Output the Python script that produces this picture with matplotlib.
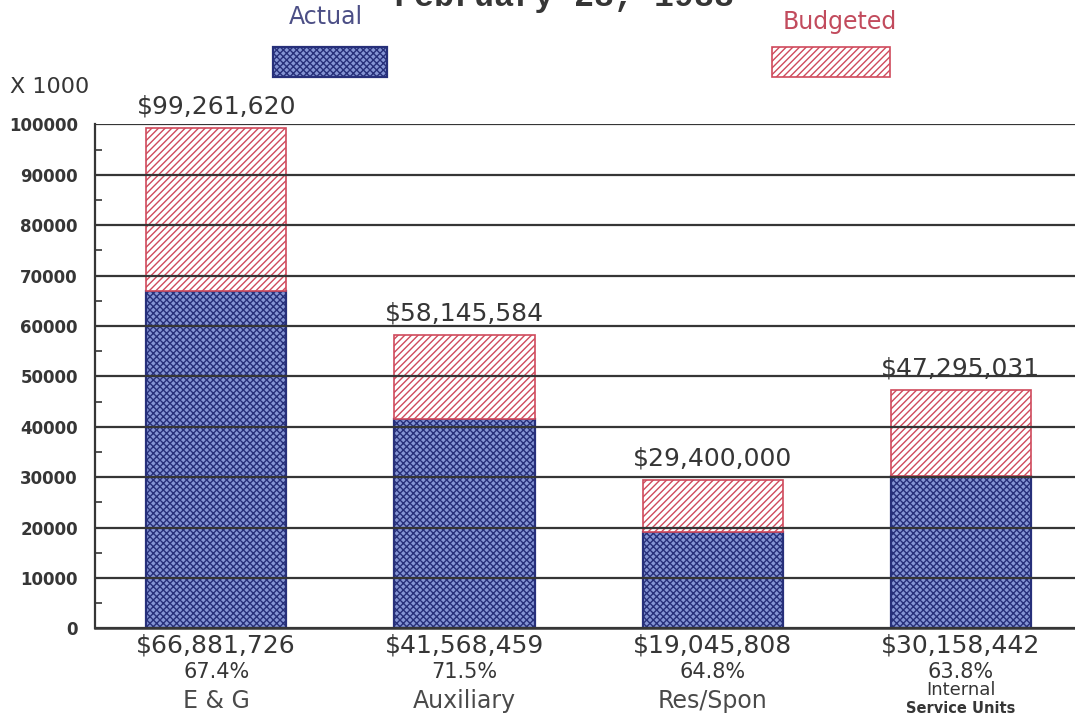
import matplotlib.pyplot as plt
from matplotlib.patches import Rectangle
from matplotlib.ticker import MultipleLocator
import numpy as np

# Spending by fund group, in dollars
categories = ["E & G", "Auxiliary", "Res/Spon", "Internal\nService Units"]
actual = [66881726, 41568459, 19045808, 30158442]
budgeted = [99261620, 58145584, 29400000, 47295031]
yticks = [0, 10000, 20000, 30000, 40000, 50000, 60000, 70000, 80000, 90000, 100000]

INK = "#363636"
NAVY = "#27307a"
BLUE_FACE = "#8595d4"
RED = "#cf4a5c"

plt.rcParams["hatch.linewidth"] = 1.0

fig = plt.figure(figsize=(10.75, 7.23), dpi=100)
ax = fig.add_axes([0.088, 0.131, 0.912, 0.697])

x = np.arange(len(categories))
act_k = np.array(actual) / 1000
bud_k = np.array(budgeted) / 1000
width = 0.565

# actual spent at the bottom, remaining budget stacked on top
ax.bar(x, act_k, width, color=BLUE_FACE, edgecolor=NAVY, hatch="xxxxx", linewidth=1.6, zorder=2)
ax.bar(x, bud_k - act_k, width, bottom=act_k, color="white", edgecolor=RED,
       hatch="/////", linewidth=1.2, zorder=2)

ax.set_xlim(-0.49, 3.46)
ax.set_ylim(0, 100000)
ax.set_yticks(yticks)
ax.set_yticklabels([str(t) for t in yticks], fontsize=12, fontweight="bold", color=INK)
ax.yaxis.set_minor_locator(MultipleLocator(5000))
ax.tick_params(axis="y", which="major", length=0, pad=12)
ax.tick_params(axis="y", which="minor", direction="in", length=5, width=1.2, color=INK)
ax.set_xticks([])
ax.grid(axis="y", color=INK, linewidth=1.6, zorder=3)
ax.set_axisbelow(False)
for side in ("top", "right"):
    ax.spines[side].set_visible(False)
ax.spines["left"].set_color(INK)
ax.spines["left"].set_linewidth(1.6)
ax.spines["bottom"].set_color(INK)
ax.spines["bottom"].set_linewidth(1.8)

for xi, a, b, name in zip(x, actual, budgeted, categories):
    ax.annotate(f"${b:,}", (xi, b / 1000), xytext=(0, 7), textcoords="offset points",
                ha="center", va="bottom", fontsize=18, color=INK)
    ax.annotate(f"${a:,}", (xi, 0), xytext=(0, -4), textcoords="offset points",
                ha="center", va="top", fontsize=18, color=INK)
    ax.annotate(f"{a / b * 100:.1f}%", (xi, 0), xytext=(0, -24), textcoords="offset points",
                ha="center", va="top", fontsize=15, color=INK)
    if "\n" in name:
        top, bottom = name.split("\n")
        ax.annotate(top, (xi, 0), xytext=(0, -38), textcoords="offset points",
                    ha="center", va="top", fontsize=13, color=INK)
        ax.annotate(bottom, (xi, 0), xytext=(0, -52), textcoords="offset points",
                    ha="center", va="top", fontsize=10.5, fontweight="bold", color=INK)
    else:
        ax.annotate(name, (xi, 0), xytext=(0, -44), textcoords="offset points",
                    ha="center", va="top", fontsize=17, color="#4a4a4a")

# heading and legend
fig.text(0.525, 0.992, "February 28, 1988", ha="center", va="baseline",
         fontsize=24, fontweight="bold", family="Liberation Mono", color=INK)
fig.text(0.009, 1 - 87 / 723, "X 1000", ha="left", va="center", fontsize=16, color=INK)

fig.text(0.303, 0.976, "Actual", ha="center", va="center", fontsize=17, color="#4c4f86")
fig.add_artist(Rectangle((0.254, 0.8935), 0.106, 0.0415, transform=fig.transFigure,
                         facecolor=BLUE_FACE, edgecolor=NAVY, hatch="xxxxx", linewidth=1.6))
fig.text(0.781, 0.970, "Budgeted", ha="center", va="center", fontsize=17, color="#c24b5d")
fig.add_artist(Rectangle((0.718, 0.8935), 0.110, 0.0415, transform=fig.transFigure,
                         facecolor="white", edgecolor=RED, hatch="/////", linewidth=1.2))

fig.savefig("out.png", dpi=100)
